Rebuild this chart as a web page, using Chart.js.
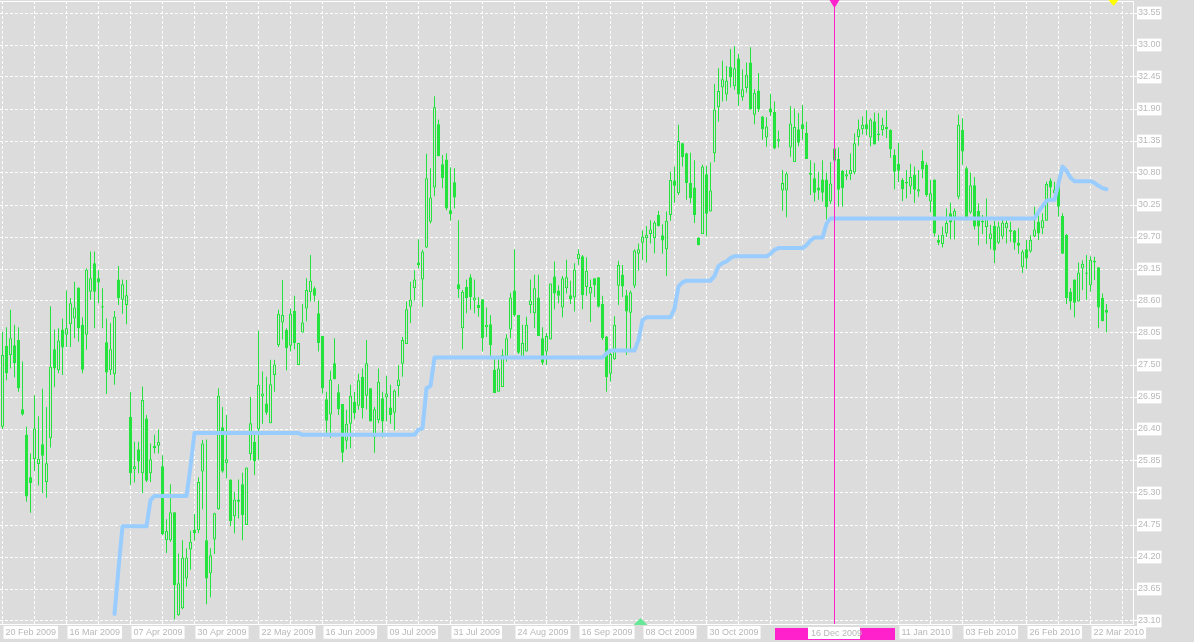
<!DOCTYPE html>
<html><head><meta charset="utf-8">
<script src="https://cdn.jsdelivr.net/npm/chart.js@4/dist/chart.umd.min.js"></script>
<style>html,body{margin:0;padding:0;background:#dcdcdc;overflow:hidden}canvas{display:block}</style>
</head><body>
<canvas id="c" width="1194" height="642"></canvas>
<script>
// x-axis date labels (one every 16 bars; two are hidden under the vertical-line label)
const xTickLabels = ['20 Feb 2009','16 Mar 2009','07 Apr 2009','30 Apr 2009','22 May 2009','16 Jun 2009','09 Jul 2009','31 Jul 2009','24 Aug 2009','16 Sep 2009','08 Oct 2009','30 Oct 2009','','','11 Jan 2010','03 Feb 2010','26 Feb 2010','22 Mar 2010'];
const yTicks = [23.10,23.65,24.20,24.75,25.30,25.85,26.40,26.95,27.50,28.05,28.60,29.15,29.70,30.25,30.80,31.35,31.90,32.45,33.00,33.55];

const openP = [
26.44,27.83,27.67,27.84,27.93,26.74,26.30,25.57,25.88,25.80,
26.14,25.49,26.24,27.77,27.41,28.11,28.02,28.20,28.30,28.83,
28.19,28.02,28.76,29.25,28.99,28.51,27.89,27.41,27.34,28.97,
28.62,28.53,26.61,25.71,26.05,25.64,26.58,25.64,26.11,26.11,
25.76,24.49,24.49,24.97,23.20,23.32,23.83,24.33,24.67,24.66,
25.67,24.49,23.92,24.50,25.02,26.43,25.81,25.53,24.90,25.19,
25.45,24.75,25.97,26.18,26.39,26.96,26.84,26.50,27.33,27.84,
28.23,28.10,27.83,28.43,27.50,28.06,28.47,28.75,28.82,28.39,
28.00,26.91,26.65,27.53,27.03,26.83,26.20,26.49,26.87,26.80,
27.30,26.97,27.10,26.26,26.55,26.93,26.94,26.77,26.68,27.14,
27.52,27.86,28.50,28.82,29.26,28.97,29.52,29.96,30.55,31.64,
30.95,31.03,30.16,30.64,28.89,28.13,28.84,29.01,28.61,28.53,
28.63,28.15,28.20,27.42,27.04,27.12,27.63,28.11,28.78,28.36,
27.62,27.73,28.53,28.39,28.66,27.96,27.73,27.94,29.02,28.78,
28.49,28.82,28.70,28.66,29.32,29.37,28.84,28.73,28.99,29.01,
28.55,27.99,27.35,27.60,28.86,29.05,28.70,28.40,28.86,29.41,
29.60,29.68,29.75,29.68,30.08,29.73,29.49,30.08,30.67,30.45,
31.31,31.14,30.63,30.55,29.69,29.75,30.78,30.14,31.14,31.93,
32.27,32.15,32.62,32.29,32.77,32.10,32.26,32.70,31.80,32.22,
31.77,31.41,31.91,31.85,31.34,30.50,30.50,31.24,30.99,31.55,
31.64,31.49,30.80,30.71,30.55,30.69,30.69,30.31,31.01,31.04,
30.84,30.74,30.78,30.81,31.42,31.55,31.64,31.41,31.69,31.48,
31.54,31.59,31.54,31.11,30.96,30.68,30.65,30.57,30.77,30.48,
31.01,30.94,30.31,30.69,29.65,29.58,29.76,30.11,30.05,30.39,
31.54,30.88,30.12,30.59,30.15,29.98,29.87,29.66,29.89,29.60,
29.71,29.85,29.82,29.81,29.60,29.18,29.49,29.45,29.71,29.96,
29.85,29.98,30.67,30.45,30.68,30.06,29.74,28.76,28.97,28.59,
29.16,29.09,28.87,29.26,29.18,28.65,28.45];

const highP = [
28.07,28.15,28.45,28.19,28.15,27.56,26.44,25.98,26.98,26.62,
27.09,26.78,28.51,28.11,28.13,28.30,28.78,28.65,28.93,28.83,
28.32,29.16,29.45,29.45,29.13,28.82,28.30,28.22,28.43,29.20,
28.97,28.96,27.04,26.18,26.18,27.13,26.64,26.15,26.30,26.39,
25.95,24.85,25.45,24.97,24.26,24.49,24.35,24.65,24.94,25.57,
26.21,26.22,24.35,24.96,27.10,26.78,26.64,25.53,25.32,25.53,
25.65,25.74,26.95,26.30,28.09,27.39,27.30,27.59,27.59,28.45,
28.96,28.13,28.47,28.69,27.88,28.55,28.99,29.39,28.85,28.61,
28.00,27.04,27.40,27.96,27.17,26.83,26.73,27.16,27.04,27.35,
27.44,27.93,27.10,26.78,27.44,27.04,27.31,27.16,27.08,27.50,
27.98,28.59,28.93,29.13,29.66,29.48,31.13,30.88,32.12,31.72,
31.11,31.14,30.90,30.88,29.99,28.79,28.97,29.06,28.97,28.67,
28.63,28.49,28.36,27.65,27.60,27.77,28.03,28.74,29.49,28.36,
28.19,28.33,28.97,29.05,29.05,28.15,28.05,28.90,29.28,28.87,
29.03,29.31,28.95,29.25,29.49,29.39,29.35,28.97,28.99,29.01,
28.69,28.00,27.76,28.34,29.29,29.22,28.79,28.78,29.49,29.59,
29.81,29.89,29.99,29.98,30.15,29.92,30.14,30.82,30.91,31.63,
31.32,31.15,31.15,31.02,29.69,30.94,30.92,30.98,32.33,32.60,
32.73,32.64,32.93,32.98,32.85,32.58,32.70,32.96,32.24,32.52,
31.78,31.76,32.16,32.03,31.53,30.85,30.82,31.95,31.91,31.83,
31.97,31.68,31.02,30.97,30.82,31.02,30.81,30.99,31.26,31.24,
30.85,30.85,31.14,31.48,31.72,31.77,31.88,31.74,31.84,31.83,
31.75,31.88,31.55,31.21,31.32,30.71,30.85,30.96,30.91,30.85,
31.19,30.98,30.68,30.69,29.74,29.88,30.19,30.29,30.19,31.80,
31.74,30.91,30.81,30.73,30.28,30.08,30.36,29.91,29.98,29.96,
30.02,29.99,29.96,29.82,29.85,29.48,29.65,29.73,30.22,30.08,
30.11,30.65,30.71,30.65,30.73,30.11,29.75,28.82,28.97,29.26,
29.30,29.39,29.37,29.36,29.18,28.73,28.55];

const lowP = [
26.40,27.24,27.44,27.29,27.04,26.63,25.15,24.96,25.68,25.43,
25.30,25.22,26.08,27.12,27.36,27.33,27.81,27.81,27.96,27.90,
27.36,27.76,28.62,28.13,28.56,28.13,27.00,27.33,27.16,28.53,
28.38,28.20,25.44,25.48,25.64,25.30,25.49,25.49,25.98,25.98,
24.58,24.27,24.46,23.13,23.19,23.30,23.69,23.98,24.48,24.61,
25.02,23.39,23.51,24.25,25.01,25.65,25.55,24.73,24.61,24.86,
24.49,24.75,25.86,25.61,25.87,26.49,26.64,26.50,27.04,27.81,
27.94,27.41,27.73,27.77,27.50,28.06,28.25,28.59,28.59,27.73,
27.01,26.30,26.25,27.25,26.64,25.83,26.05,26.07,26.57,26.73,
26.58,26.74,26.53,25.99,26.50,26.26,26.53,26.49,26.38,26.96,
27.30,27.86,28.22,28.61,29.16,28.50,29.51,29.93,30.40,31.09,
30.54,30.16,29.98,30.19,28.65,27.77,28.39,28.45,28.39,28.33,
27.73,27.98,27.61,27.02,27.04,27.12,27.56,27.96,28.33,27.69,
27.62,27.73,28.39,28.13,28.00,27.50,27.50,27.94,28.46,28.56,
28.32,28.73,28.55,28.42,29.22,28.46,28.69,28.24,28.67,28.49,
27.93,27.04,27.21,27.59,28.53,28.67,27.67,27.73,28.82,29.12,
29.31,29.26,29.59,29.42,29.88,29.41,29.03,29.98,30.29,30.42,
30.91,30.34,30.28,29.94,29.56,29.75,29.71,30.14,30.99,31.68,
32.03,32.04,32.27,32.23,31.95,32.04,32.18,31.89,31.64,31.85,
31.37,31.25,31.78,31.21,31.24,30.15,30.04,31.08,30.99,31.26,
31.37,31.04,30.42,30.31,30.34,30.31,30.00,30.27,30.98,30.22,
30.22,30.68,30.68,30.78,31.27,31.46,31.45,31.26,31.29,31.35,
31.44,31.40,31.06,30.52,30.64,30.32,30.36,30.44,30.29,30.39,
30.71,30.39,30.12,29.71,29.56,29.52,29.70,29.66,29.66,30.35,
30.94,30.04,30.10,29.83,29.56,29.75,29.58,29.49,29.25,29.58,
29.66,29.59,29.62,29.48,29.41,29.08,29.15,29.43,29.70,29.65,
29.75,29.98,30.34,30.35,30.05,29.41,28.55,28.45,28.32,28.59,
28.79,28.62,28.76,28.96,28.13,28.25,28.06];

const closeP = [
27.67,27.36,27.96,27.53,27.10,26.65,25.24,25.47,26.41,25.89,
25.94,25.81,27.47,27.44,27.92,27.80,28.13,28.56,28.49,28.13,
27.42,29.14,28.99,28.76,28.92,28.49,27.37,27.77,28.33,28.65,
28.89,28.70,25.64,25.76,25.84,26.90,25.51,25.88,26.07,26.18,
24.59,24.65,24.97,23.72,23.75,24.19,24.19,24.46,24.61,25.49,
26.15,23.83,24.23,24.95,26.97,25.67,25.88,24.82,25.19,25.15,
24.92,25.74,26.50,25.85,27.16,27.01,26.68,27.17,27.51,28.38,
28.36,27.79,28.38,27.88,27.88,28.23,28.79,28.95,28.69,27.88,
27.10,26.54,27.25,27.26,26.74,25.99,26.49,26.97,26.67,27.24,
26.76,27.53,26.53,26.74,27.21,26.53,27.01,26.64,27.06,27.25,
27.93,28.46,28.62,28.97,29.22,29.45,30.71,30.38,31.93,31.09,
30.71,30.19,30.09,30.38,28.80,28.76,28.65,28.67,28.66,28.48,
27.96,28.19,27.84,27.02,27.44,27.67,27.96,28.66,28.36,27.71,
27.88,28.19,28.61,28.82,28.00,27.54,28.00,28.90,28.73,28.69,
28.99,29.01,28.63,29.14,29.41,28.70,29.12,28.84,28.87,28.50,
27.96,27.29,27.69,28.19,29.22,28.85,28.42,28.75,29.47,29.49,
29.71,29.74,29.83,29.95,29.89,29.64,29.98,30.68,30.58,31.35,
31.07,30.63,30.37,30.08,29.56,30.91,30.10,30.50,31.89,32.21,
32.41,32.39,32.45,32.60,32.15,32.24,32.49,31.89,32.18,31.89,
31.55,31.60,31.84,31.22,31.38,30.63,30.79,31.65,31.59,31.32,
31.55,31.04,30.77,30.46,30.50,30.46,30.21,30.62,31.22,30.51,
30.54,30.78,30.85,31.31,31.55,31.63,31.55,31.72,31.29,31.45,
31.63,31.55,31.21,30.82,30.84,30.52,30.62,30.73,30.51,30.52,
30.86,30.42,30.45,29.76,29.60,29.74,29.94,29.95,30.15,31.63,
31.17,30.04,30.59,29.88,29.88,29.95,30.02,29.76,29.47,29.88,
29.95,29.94,29.79,29.60,29.55,29.45,29.33,29.65,29.83,29.76,
29.99,30.61,30.55,30.51,30.22,29.41,28.65,28.59,28.57,29.09,
29.24,29.07,29.31,29.29,28.49,28.25,28.40];

// stepped stop-level indicator, one value per bar starting at bar 28
const stopStart = 28;
const stopLine = [
23.22,24.00,
24.73,24.73,24.73,24.73,24.73,24.73,24.73,
25.18,
25.25,25.25,25.25,25.25,25.25,25.25,25.25,25.25,25.25,
25.75,
26.33,26.33,26.33,26.33,26.33,26.33,26.33,26.33,26.33,
26.33,26.33,26.33,26.33,26.33,26.33,26.33,26.33,26.33,
26.33,26.33,26.33,26.33,26.33,26.33,26.33,26.33,26.33,
26.30,26.30,26.30,26.30,26.30,26.30,26.30,26.30,26.30,
26.30,26.30,26.30,26.30,26.30,26.30,26.30,26.30,26.30,
26.30,26.30,26.30,26.30,26.30,26.30,26.30,26.30,26.30,
26.30,26.30,
26.39,26.41,27.10,27.14,
27.63,27.63,27.63,27.63,27.63,27.63,27.63,27.63,27.63,27.63,
27.63,27.63,27.63,27.63,27.63,27.63,27.63,27.63,27.63,27.63,
27.63,27.63,27.63,27.63,27.63,27.63,27.63,27.63,27.63,27.63,
27.63,27.63,27.63,27.63,27.63,27.63,27.63,27.63,27.63,27.63,
27.63,27.63,27.63,
27.70,
27.75,27.75,27.75,27.75,27.75,27.75,27.75,
27.93,28.27,
28.32,28.32,28.32,28.32,28.32,28.32,28.32,
28.47,28.85,28.92,
28.95,28.95,28.95,28.95,28.95,28.95,28.95,
29.03,29.20,29.25,29.28,29.34,
29.37,29.37,29.37,29.37,29.37,29.37,29.37,29.37,29.37,
29.41,29.48,
29.51,29.51,29.51,29.51,29.51,29.51,29.51,
29.56,29.64,
29.69,29.69,29.69,
29.93,
30.02,30.02,30.02,30.02,30.02,30.02,30.02,30.02,30.02,30.02,
30.02,30.02,30.02,30.02,30.02,30.02,30.02,30.02,30.02,30.02,
30.02,30.02,30.02,30.02,30.02,30.02,30.02,30.02,30.02,30.02,
30.02,30.02,30.02,30.02,30.02,30.02,30.02,30.02,30.02,30.02,
30.02,30.02,30.02,30.02,30.02,30.02,30.02,30.02,30.02,30.02,
30.02,30.02,
30.13,30.23,30.32,30.34,30.34,30.62,30.91,30.84,30.72,
30.66,30.66,30.66,30.66,30.66,
30.63,30.58,30.54,30.52];

const vLineIndex = 208, vLineLabel = '16 Dec 2009';
const upArrowIndex = 159.5, downArrowIndex = 277.75;

const GREEN = '#24e33c', BG = '#dcdcdc', MAGENTA = '#ff22cc', TXT = '#b8b8b8';
Chart.defaults.font.family = "'Liberation Sans', Arial, sans-serif";

function tri(ctx, pts, color) {
  ctx.fillStyle = color; ctx.beginPath();
  ctx.moveTo(pts[0], pts[1]); ctx.lineTo(pts[2], pts[3]); ctx.lineTo(pts[4], pts[5]);
  ctx.closePath(); ctx.fill();
}

const decor = {
  id: 'decor',
  afterDatasetsDraw(chart) {
    const {ctx, chartArea: a, scales: {x}} = chart;
    ctx.save();
    ctx.lineWidth = 1;
    ctx.strokeStyle = '#ffffff';
    ctx.beginPath(); ctx.moveTo(a.left, a.top + 0.5); ctx.lineTo(a.right + 1, a.top + 0.5); ctx.stroke();
    const vx = Math.floor(x.getPixelForValue(vLineIndex)) + 0.5;
    ctx.strokeStyle = MAGENTA;
    ctx.beginPath(); ctx.moveTo(vx, 0); ctx.lineTo(vx, a.bottom); ctx.stroke();
    tri(ctx, [vx - 5, 0, vx + 5, 0, vx, 8], MAGENTA);
    const yx = x.getPixelForValue(downArrowIndex);
    tri(ctx, [yx - 5, 0, yx + 5, 0, yx, 6], '#ffff00');
    const gx = x.getPixelForValue(upArrowIndex);
    tri(ctx, [gx - 7, a.bottom + 1, gx + 7, a.bottom + 1, gx, a.bottom - 6], '#66e897');
    ctx.restore();
  },
  afterDraw(chart) {
    const {ctx, scales: {x}} = chart;
    const vx = Math.floor(x.getPixelForValue(vLineIndex)) + 0.5;
    ctx.save();
    ctx.fillStyle = MAGENTA;
    ctx.fillRect(Math.round(vx - 60), 628, 120, 12);
    ctx.fillStyle = '#ffffff';
    ctx.fillRect(Math.round(vx - 27), 627, 52, 12);
    ctx.fillStyle = TXT;
    ctx.font = "9px 'Liberation Sans', Arial, sans-serif";
    ctx.textBaseline = 'middle'; ctx.textAlign = 'left';
    ctx.fillText(vLineLabel, Math.round(vx - 24), 633.5);
    ctx.restore();
  }
};

new Chart(document.getElementById('c'), {
  type: 'bar',
  data: {
    datasets: [
      { type: 'line', data: stopLine.map((v, k) => ({x: stopStart + k, y: v})),
        borderColor: '#99ccff', borderWidth: 4, pointRadius: 0, tension: 0,
        borderCapStyle: 'round', borderJoinStyle: 'round', order: 0 },
      { type: 'bar', data: openP.map((o, i) => ({x: i, y: [o, closeP[i]]})),
        backgroundColor: c => closeP[c.dataIndex] > openP[c.dataIndex] ? BG : GREEN,
        borderColor: GREEN, borderWidth: 1, borderSkipped: false, inflateAmount: 0,
        barThickness: 3, maxBarThickness: 3, grouped: false, order: 1 },
      { type: 'bar', data: lowP.map((l, i) => ({x: i, y: [l, highP[i]]})),
        backgroundColor: GREEN, borderWidth: 0, inflateAmount: 0,
        barThickness: 1, maxBarThickness: 1, grouped: false, order: 2 }
    ]
  },
  options: {
    responsive: false, animation: false, devicePixelRatio: 1, events: [],
    layout: { padding: { top: 1, left: 0, right: 0, bottom: 0 } },
    plugins: { legend: { display: false }, tooltip: { enabled: false } },
    scales: {
      x: {
        type: 'linear', position: 'bottom', min: -0.625, max: 282.625, offset: false,
        afterBuildTicks: s => { const t = []; for (let v = 0; v <= 280; v += 8) t.push({value: v}); s.ticks = t; },
        afterFit: s => { s.height = 18; s.paddingLeft = 0; s.paddingRight = 0; },
        ticks: {
          autoSkip: false, maxRotation: 0, minRotation: 0, align: 'start', labelOffset: 3, padding: 3,
          font: { size: 9 }, color: TXT,
          callback: v => (v % 16 === 0 ? (xTickLabels[v / 16] || '') : ''),
          showLabelBackdrop: c => !!(c.tick && c.tick.label), backdropColor: '#ffffff',
          backdropPadding: { left: 2, right: 2, top: 1, bottom: 1 }
        },
        grid: { color: '#ffffff', lineWidth: 1, drawTicks: false, offset: false },
        border: { display: true, color: '#ffffff', width: 1, dash: [3, 2] }
      },
      y: {
        type: 'linear', position: 'right', min: 23.0484375, max: 33.75625,
        afterBuildTicks: s => { s.ticks = yTicks.map(v => ({value: v})); },
        afterFit: s => { s.width = 61; s.paddingTop = 0; s.paddingBottom = 0; },
        ticks: {
          padding: 1, font: { size: 9 }, color: TXT,
          callback: v => Number(v).toFixed(2),
          showLabelBackdrop: true, backdropColor: '#ffffff',
          backdropPadding: { left: 1, right: 1, top: 1, bottom: 1 }
        },
        grid: { color: '#ffffff', lineWidth: 1, tickLength: 4, tickColor: '#ffffff' },
        border: { display: true, color: '#ffffff', width: 1, dash: [3, 2] }
      }
    }
  },
  plugins: [decor]
});
</script>
</body></html>
